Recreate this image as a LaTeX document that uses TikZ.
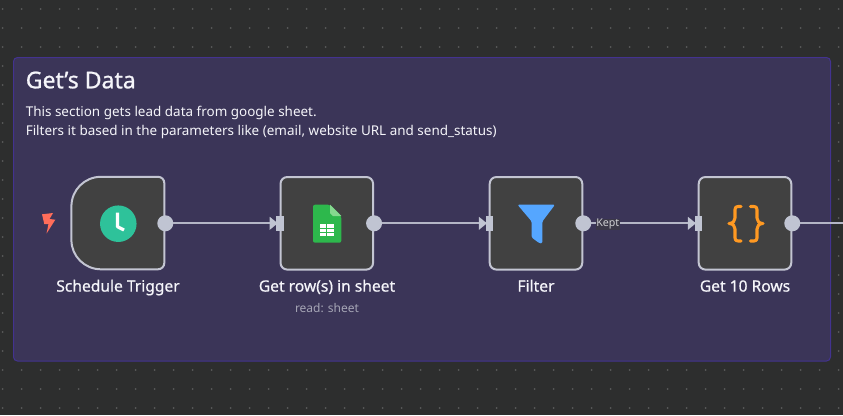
\documentclass[tikz,border=0pt]{standalone}
\usepackage{fontspec}
\setmainfont{Noto Sans}
\newfontfamily\semibold[FakeBold=0.6]{Noto Sans}
\newfontfamily\titlefont[FakeBold=0.9]{Noto Sans}
\definecolor{canvas}{HTML}{2D2E2E}
\definecolor{griddot}{HTML}{5A5B5B}
\definecolor{groupbg}{HTML}{3B3558}
\definecolor{groupedge}{HTML}{43338F}
\definecolor{nodefill}{HTML}{414141}
\definecolor{nodeedge}{HTML}{C3C5D2}
\definecolor{handle}{HTML}{C0C4D2}
\definecolor{wire}{HTML}{B4B6C6}
\definecolor{clockgreen}{HTML}{2EC29A}
\definecolor{boltred}{HTML}{FF6D5A}
\definecolor{sheetgreen}{HTML}{2DB84C}
\definecolor{sheetlight}{HTML}{85D98F}
\definecolor{funnelblue}{HTML}{55A6FF}
\definecolor{braceorange}{HTML}{FF9922}
\definecolor{textwhite}{HTML}{F5F5FA}
\definecolor{subtext}{HTML}{A5A5B5}
\definecolor{keptbg}{HTML}{3B3848}
\definecolor{kepttext}{HTML}{CFCFD2}
\begin{document}
\begin{tikzpicture}[x=0.75pt,y=-0.75pt,
  boxnode/.style={draw=nodeedge,line width=1.5pt,fill=nodefill,rounded corners=5pt,minimum width=69.4pt,minimum height=69.4pt,inner sep=0pt,outer sep=0pt},
  outdot/.style={circle,fill=handle,minimum size=12pt,inner sep=0pt,outer sep=0pt,xshift=0.75pt},
  inport/.style={rectangle,fill=handle,minimum width=5.6pt,minimum height=11.2pt,inner sep=0pt,outer sep=0pt,xshift=-0.3pt},
  wireline/.style={draw=wire,line width=1.5pt},
  tip/.style={fill=handle},
  namelabel/.style={text=textwhite,font=\fontsize{11.7pt}{13pt}\semibold,inner sep=0pt,anchor=base},
  bracestroke/.style={draw=braceorange,line width=2.3pt,line join=round,line cap=round},
]
\useasboundingbox (0,0) rectangle (843,415);
\fill[canvas] (0,0) rectangle (843,415);
\foreach \i in {0,...,44}{\foreach \j in {0,...,21}{
  \fill[griddot] ({2.7+19*\i},{9+19*\j}) circle (0.75pt);}}
\draw[groupedge,fill=groupbg,line width=0.75pt,rounded corners=3pt] (13.5,57.5) rectangle (830.5,361);
\node[anchor=base west,inner sep=0pt,text=textwhite,font=\fontsize{17.3pt}{18pt}\titlefont] (title) at (25.5,88.3) {Get’s Data};
\node[anchor=base west,inner sep=0pt,text=textwhite,font=\fontsize{10.1pt}{12pt}\selectfont] (desa) at (25.5,116.7) {This section gets lead data from google sheet.};
\node[anchor=base west,inner sep=0pt,text=textwhite,font=\fontsize{10.1pt}{12pt}\selectfont] (desb) at (25.5,135) {Filters it based in the parameters like (email, website URL and send\_status)};
% nodes
\path[draw=nodeedge,line width=1.5pt,fill=nodefill] (101,176.8) -- (158,176.8) .. controls (161.5,176.8) and (164.3,179.5) .. (164.3,183) -- (164.3,263) .. controls (164.3,266.5) and (161.5,269.3) .. (158,269.3) -- (101,269.3) .. controls (84.5,269.3) and (71.4,256) .. (71.4,240) -- (71.4,206.5) .. controls (71.4,190) and (84.5,176.8) .. (101,176.8) -- cycle;
\coordinate (n1e) at (164.3,223.3);
\node[boxnode] (n2) at (326.8,223.3) {};
\node[boxnode] (n3) at (536,223.3) {};
\node[boxnode] (n4) at (745,223.3) {};
\node[outdot] (o1) at (n1e) {};
\node[outdot] (o2) at (n2.east) {};
\node[outdot] (o3) at (n3.east) {};
\node[outdot] (o4) at (n4.east) {};
\node[inport] (i2) at (n2.west) {};
\node[inport] (i3) at (n3.west) {};
\node[inport] (i4) at (n4.west) {};
\coordinate (off) at (843,223.3);
\draw[wireline] (o1) -- (i2);
\draw[wireline] (o2) -- (i3);
\draw[wireline] (o3) -- (i4);
\draw[wireline] (o4) -- (off);
\foreach \p in {i2,i3,i4}{\fill[tip] ([xshift=-7.8pt]\p.center) ++(0,-6.5) -- ++(8,6.5) -- ++(-8,6.5) -- cycle;}
\node[fill=keptbg,inner sep=0.4pt,text=kepttext,font=\fontsize{8pt}{9pt}\selectfont,anchor=base] (kept) at (607.8,226.8) {Kept};
% labels
\node[namelabel] (l1) at (118,291.6) {Schedule Trigger};
\node[namelabel] (l2) at (327,291.6) {Get row(s) in sheet};
\node[namelabel] (l3) at (536,291.6) {Filter};
\node[namelabel] (l4) at (745,291.6) {Get 10 Rows};
\node[text=subtext,inner sep=0pt,font=\fontsize{9pt}{11pt}\selectfont,anchor=base] (l2b) at (327,312) {read: sheet};
% clock
\fill[clockgreen] (118.3,223.7) circle[radius=13.7pt];
\draw[white,line width=2.4pt,line join=round] (117.5,212.7) -- (117.5,226.7) -- (124,230);
% bolt
\fill[boltred] (42,214.3) -- (53,213) -- (49.6,219) -- (55.3,219.7) -- (46.5,233.6) -- (48.5,224) -- (44.3,224) -- cycle;
% sheet
\fill[sheetgreen,rounded corners=1.5pt] (313,204.7) -- (330,204.7) -- (341.3,216) -- (341.3,242.7) -- (313,242.7) -- cycle;
\fill[sheetlight] (330,204.7) -- (341.3,216) -- (333,216) -- (330,213) -- cycle;
\fill[white] (320.3,224) rectangle (334,236);
\foreach \yy in {227.5,231.7}{\fill[sheetgreen] (320.3,\yy) rectangle (334,\yy+1);}
\fill[sheetgreen] (326.3,224) rectangle (327.3,236);
% funnel
\fill[funnelblue,rounded corners=1pt] (517.5,204.7) -- (555,204.7) -- (542.3,221.5) -- (542.3,243.5) -- (539,243) -- (531.7,237.5) -- (531.7,221.5) -- cycle;
% braces
\draw[bracestroke] (741,206.5) -- (738,206.5) .. controls (736,206.5) and (735,207.5) .. (735,209.5) -- (735,218) .. controls (735,221) and (733,223.5) .. (729,223.5) .. controls (733,223.5) and (735,226) .. (735,229) -- (735,238) .. controls (735,240) and (736,241) .. (738,241) -- (741,241);
\draw[bracestroke] (750.5,206.5) -- (754,206.5) .. controls (756,206.5) and (757,207.5) .. (757,209.5) -- (757,218) .. controls (757,221) and (759,223.5) .. (763,223.5) .. controls (759,223.5) and (757,226) .. (757,229) -- (757,238) .. controls (757,240) and (756,241) .. (754,241) -- (750.5,241);
\end{tikzpicture}
\end{document}
